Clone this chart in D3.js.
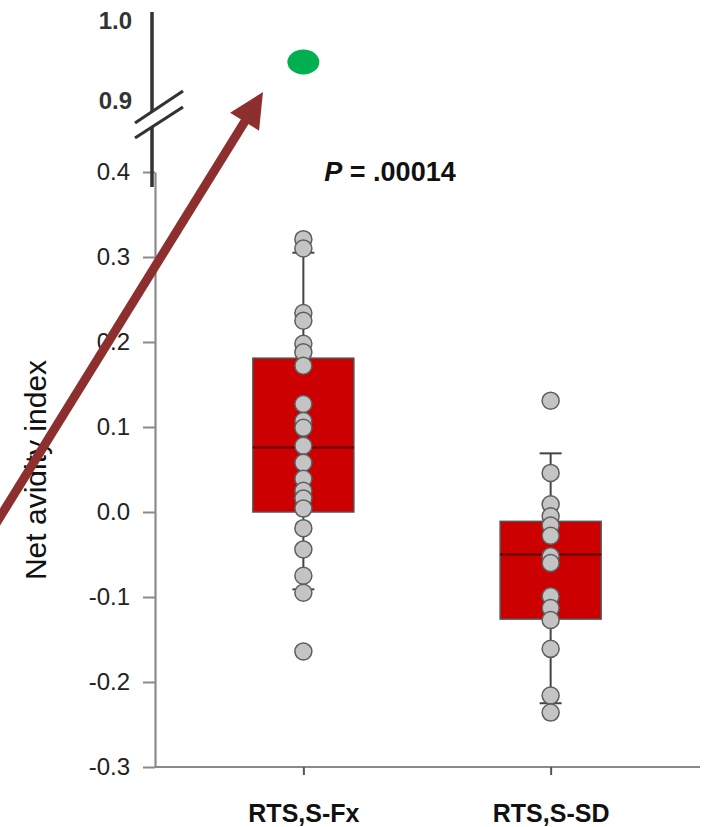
<!DOCTYPE html>
<html>
<head>
<meta charset="utf-8">
<script src="https://cdn.jsdelivr.net/npm/d3@7"></script>
<style>
  body { margin: 0; background: #fff; }
  text { font-family: "Liberation Sans", Arial, sans-serif; }
</style>
</head>
<body>
<svg id="chart" width="705" height="827"></svg>
<script>
const groups = ["RTS,S-Fx", "RTS,S-SD"];

// individual points per group
const fxValues = [0.321, 0.310, 0.234, 0.225, 0.198, 0.188, 0.172, 0.127, 0.107, 0.099,
  0.078, 0.058, 0.039, 0.025, 0.016, 0.004, -0.019, -0.044, -0.075, -0.095, -0.164];
const sdValues = [0.131, 0.046, 0.009, -0.005, -0.016, -0.028, -0.052, -0.060,
  -0.099, -0.113, -0.127, -0.161, -0.216, -0.236];

// box summaries: [whiskerLow, q1, median, q3, whiskerHigh]
const fxBox = [-0.091, 0.0, 0.076, 0.181, 0.305];
const sdBox = [-0.225, -0.126, -0.050, -0.011, 0.069];

const lowerTicks = [-0.3, -0.2, -0.1, 0.0, 0.1, 0.2, 0.3, 0.4];
const upperTicks = [0.9, 1.0];
const outlierValue = 0.9475; // green point above the break
const pLabel = ".00014";

const svg = d3.select("#chart");

const x = d3.scalePoint().domain(groups).range([155, 699]).padding(0.6);
const y = d3.scaleLinear().domain([-0.3, 0.4]).range([767, 172]);
const yTop = d3.scaleLinear().domain([0.9, 1.0]).range([100, 20]);

const axisGray = "#8a8a8a";

// lower y axis
const yAxis = svg.append("g").attr("transform", "translate(155,0)")
  .call(d3.axisLeft(y).tickValues(lowerTicks).tickFormat(d3.format(".1f")).tickSize(12).tickSizeOuter(0));
yAxis.select(".domain").attr("stroke", axisGray).attr("stroke-width", 2.2);
yAxis.selectAll(".tick line").attr("stroke", axisGray).attr("stroke-width", 2);
yAxis.selectAll(".tick text").attr("x", -25).attr("font-size", 24).attr("fill", "#222")
  .text(d => d3.format(".1f")(d).replace("−", "-"));

// x axis
const xAxis = svg.append("g").attr("transform", "translate(0,767)")
  .call(d3.axisBottom(x).tickSize(8).tickSizeOuter(0));
xAxis.select(".domain").attr("stroke", axisGray).attr("stroke-width", 2.2)
  .attr("d", "M155,0H700");
xAxis.selectAll(".tick line").attr("stroke", "#555").attr("stroke-width", 2);
xAxis.selectAll(".tick text").attr("y", 37).attr("font-size", 25).attr("font-weight", "bold")
  .attr("fill", "#111");

// upper (broken) axis segment
const upper = svg.append("g");
upper.append("line").attr("x1", 152).attr("x2", 152).attr("y1", 12).attr("y2", 112)
  .attr("stroke", "#333").attr("stroke-width", 3.5);
upper.append("line").attr("x1", 152).attr("x2", 152).attr("y1", 127).attr("y2", 187)
  .attr("stroke", "#333").attr("stroke-width", 3.5);
[[123, 91], [138, 107]].forEach(([y1, y2]) => {
  upper.append("line").attr("x1", 135).attr("y1", y1).attr("x2", 183).attr("y2", y2)
    .attr("stroke", "#333").attr("stroke-width", 3.2);
});
upper.selectAll(".utick").data(upperTicks).enter().append("text")
  .attr("x", 132).attr("y", d => yTop(d)).attr("dy", "0.36em")
  .attr("text-anchor", "end").attr("font-size", 24).attr("font-weight", "bold")
  .attr("fill", "#333").text(d => d.toFixed(1));

// y label
svg.append("text")
  .attr("transform", `translate(46,${470}) rotate(-90)`)
  .attr("text-anchor", "middle").attr("font-size", 30).attr("fill", "#111")
  .text("Net avidity index");

// boxes
const boxes = [
  { group: groups[0], s: fxBox, pts: fxValues },
  { group: groups[1], s: sdBox, pts: sdValues },
];
const boxW = 101, capW = 22;

boxes.forEach(b => {
  const cx = x(b.group);
  const g = svg.append("g");
  g.append("line").attr("x1", cx).attr("x2", cx).attr("y1", y(b.s[4])).attr("y2", y(b.s[0]))
    .attr("stroke", "#444").attr("stroke-width", 2);
  [b.s[0], b.s[4]].forEach(v => {
    g.append("line").attr("x1", cx - capW / 2).attr("x2", cx + capW / 2)
      .attr("y1", y(v)).attr("y2", y(v)).attr("stroke", "#444").attr("stroke-width", 2);
  });
  g.append("rect").attr("x", cx - boxW / 2).attr("width", boxW)
    .attr("y", y(b.s[3])).attr("height", y(b.s[1]) - y(b.s[3]))
    .attr("fill", "#cc0000").attr("stroke", "#555").attr("stroke-width", 1.5);
  g.append("line").attr("x1", cx - boxW / 2).attr("x2", cx + boxW / 2)
    .attr("y1", y(b.s[2])).attr("y2", y(b.s[2])).attr("stroke", "#5a0000").attr("stroke-width", 2);
  g.selectAll("circle").data(b.pts).enter().append("circle")
    .attr("cx", cx).attr("cy", d => y(d)).attr("r", 8.5)
    .attr("fill", "#c4c4c4").attr("stroke", "#5e5e5e").attr("stroke-width", 1.5);
});

// P value
const pText = svg.append("text").attr("x", 390).attr("y", 181)
  .attr("text-anchor", "middle").attr("font-size", 27).attr("font-weight", "bold").attr("fill", "#111");
pText.append("tspan").attr("font-style", "italic").text("P");
pText.append("tspan").text(" = " + pLabel);

// green point above the break
svg.append("ellipse").attr("cx", x(groups[0])).attr("cy", yTop(outlierValue))
  .attr("rx", 16).attr("ry", 12.5).attr("fill", "#00b050");

// arrow pointing at the green point
const tip = [263, 92];
const dir = [0.526, -0.850];
const headLen = 35, headHalf = 17;
const base = [tip[0] - headLen * dir[0], tip[1] - headLen * dir[1]];
const perp = [-dir[1], dir[0]];
const start = [base[0] - 520 * dir[0], base[1] - 520 * dir[1]];
const arrowColor = "#8e2f2f";
svg.append("line").attr("x1", start[0]).attr("y1", start[1]).attr("x2", base[0] + 2 * dir[0]).attr("y2", base[1] + 2 * dir[1])
  .attr("stroke", arrowColor).attr("stroke-width", 9);
svg.append("path")
  .attr("d", `M${tip[0]},${tip[1]}L${base[0] + headHalf * perp[0]},${base[1] + headHalf * perp[1]}` +
    `L${base[0] - headHalf * perp[0]},${base[1] - headHalf * perp[1]}Z`)
  .attr("fill", arrowColor);
</script>
</body>
</html>
